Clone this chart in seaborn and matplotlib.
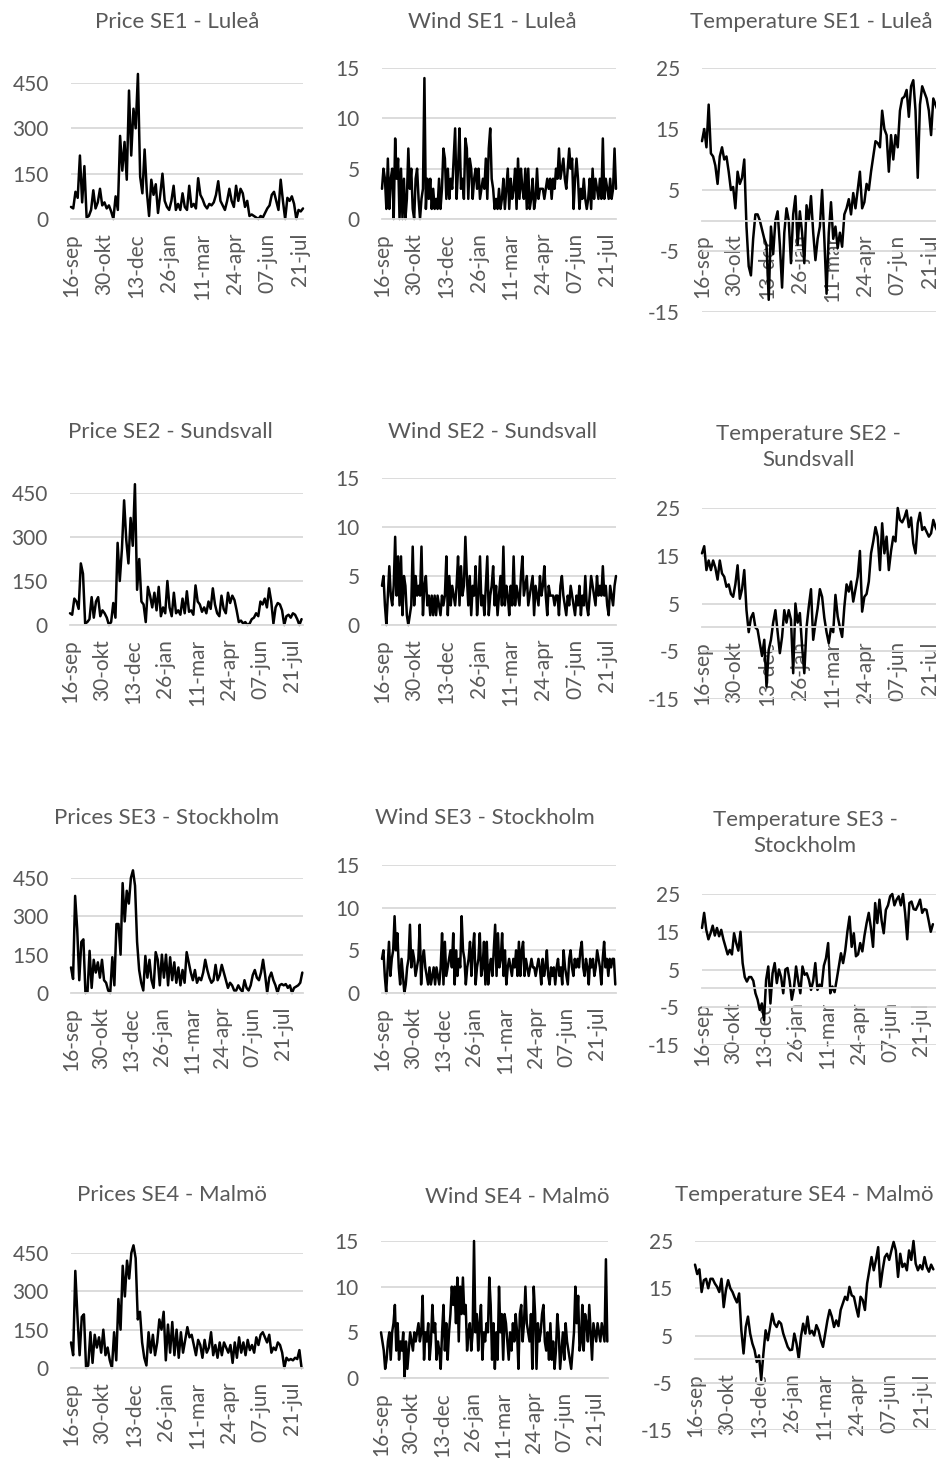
import numpy as np
import seaborn as sns
import matplotlib.pyplot as plt

sns.set_theme(style="white")
plt.rcParams['font.family'] = ['Lato', 'DejaVu Sans']
plt.rcParams['axes.unicode_minus'] = False

tick_labels = ["16-sep", "30-okt", "13-dec", "26-jan", "11-mar", "24-apr", "07-jun", "21-jul"]

# prices, one value every 3 days from 16-sep
price_se1 = [40, 35, 90, 70, 210, 55, 175, 5, 10, 30,
             95, 35, 55, 100, 45, 55, 35, 45, 25, 0,
             75, 30, 275, 160, 255, 130, 425, 210, 365, 300,
             480, 140, 85, 230, 90, 10, 130, 80, 115, 20,
             80, 150, 60, 40, 30, 60, 110, 30, 50, 30,
             85, 40, 30, 110, 40, 50, 35, 135, 80, 65,
             45, 35, 50, 45, 55, 80, 125, 60, 45, 30,
             60, 100, 60, 40, 110, 60, 100, 85, 40, 60,
             10, 15, 10, 5, 0, 10, 5, 20, 35, 45,
             80, 90, 60, 30, 130, 60, 0, 70, 60, 75,
             50, 0, 30, 25, 35]
price_se2 = [40, 35, 90, 80, 55, 210, 175, 5, 10, 20,
             95, 25, 80, 95, 30, 50, 40, 25, 0, 10,
             75, 25, 280, 150, 260, 425, 290, 210, 365, 270,
             480, 120, 225, 80, 70, 10, 130, 100, 60, 110,
             50, 130, 30, 60, 40, 150, 60, 30, 110, 40,
             50, 35, 90, 40, 115, 45, 50, 35, 135, 80,
             70, 45, 60, 40, 80, 55, 125, 70, 40, 30,
             100, 55, 40, 110, 75, 100, 85, 50, 10, 15,
             5, 10, 0, 5, 20, 25, 40, 30, 80, 70,
             90, 60, 125, 80, 5, 60, 75, 70, 50, 0,
             30, 35, 25, 40, 35, 20, 0, 20]
price_se3 = [100, 55, 380, 250, 50, 200, 210, 0, 5, 165,
             20, 130, 80, 120, 60, 130, 50, 40, 10, 0,
             140, 30, 270, 270, 150, 430, 280, 400, 350, 450,
             480, 420, 200, 90, 40, 10, 145, 60, 130, 50,
             20, 160, 130, 30, 150, 60, 150, 30, 140, 50,
             120, 40, 100, 30, 90, 40, 160, 120, 80, 50,
             90, 40, 60, 50, 80, 130, 90, 60, 40, 50,
             110, 50, 70, 110, 80, 50, 20, 40, 30, 10,
             10, 30, 15, 5, 50, 20, 10, 30, 70, 90,
             60, 50, 80, 130, 70, 0, 60, 80, 50, 30,
             0, 30, 35, 30, 35, 20, 30, 0, 20, 25,
             30, 40, 80]
price_se4 = [100, 50, 380, 200, 50, 200, 210, 0, 10, 140,
             20, 130, 80, 120, 60, 150, 50, 80, 30, 0,
             140, 30, 270, 150, 400, 280, 420, 350, 450, 480,
             430, 190, 220, 100, 40, 10, 140, 60, 130, 50,
             100, 190, 150, 220, 30, 170, 60, 180, 50, 150,
             40, 140, 60, 110, 160, 120, 130, 90, 50, 110,
             90, 40, 110, 60, 80, 140, 50, 90, 40, 100,
             50, 100, 80, 60, 90, 20, 100, 40, 120, 60,
             100, 50, 110, 70, 90, 60, 120, 90, 130, 140,
             120, 100, 130, 60, 80, 70, 100, 90, 60, 0,
             40, 30, 35, 30, 40, 35, 70, 0]

# wind, one value every 2 days
wind_se1 = [3, 5, 4, 1, 6, 1, 4, 5, 0, 8,
            4, 6, 0, 5, 0, 4, 0, 2, 7, 3,
            5, 1, 0, 4, 5, 2, 0, 2, 3, 14,
            1, 4, 2, 4, 1, 3, 1, 2, 1, 4,
            1, 3, 7, 6, 2, 5, 2, 4, 3, 6,
            9, 2, 5, 9, 3, 4, 2, 8, 7, 2,
            6, 5, 2, 4, 5, 3, 5, 2, 3, 4,
            3, 6, 2, 7, 9, 4, 3, 1, 2, 1,
            3, 1, 2, 4, 1, 3, 5, 1, 4, 2,
            3, 5, 1, 6, 2, 5, 3, 2, 5, 1,
            5, 1, 2, 4, 1, 2, 5, 2, 3, 3,
            3, 2, 3, 4, 3, 4, 2, 4, 3, 5,
            4, 7, 4, 5, 6, 4, 3, 5, 7, 5,
            6, 1, 4, 6, 4, 1, 3, 2, 4, 2,
            1, 2, 4, 1, 5, 2, 4, 3, 2, 4,
            2, 8, 2, 4, 3, 2, 4, 2, 3, 7,
            3]
wind_se2 = [4, 5, 2, 0, 3, 6, 3, 2, 4, 9,
            3, 7, 2, 7, 1, 5, 4, 1, 0, 1,
            2, 8, 2, 5, 3, 4, 3, 8, 1, 4,
            5, 2, 3, 1, 3, 1, 3, 1, 3, 2,
            1, 3, 2, 3, 7, 1, 5, 2, 4, 3,
            2, 4, 7, 2, 6, 3, 4, 9, 5, 2,
            5, 1, 4, 3, 6, 1, 3, 7, 2, 3,
            1, 4, 7, 1, 3, 4, 6, 2, 4, 1,
            3, 5, 2, 8, 2, 4, 3, 1, 4, 2,
            7, 2, 4, 3, 2, 5, 7, 3, 4, 5,
            2, 3, 4, 5, 1, 4, 3, 2, 5, 3,
            4, 6, 3, 1, 4, 3, 3, 3, 2, 3,
            3, 1, 4, 5, 3, 2, 1, 3, 2, 4,
            3, 2, 1, 3, 2, 4, 1, 3, 2, 5,
            2, 1, 3, 5, 4, 3, 2, 5, 3, 4,
            3, 6, 3, 4, 2, 1, 4, 3, 2, 4,
            5]
wind_se3 = [4, 5, 2, 0, 3, 6, 2, 4, 5, 9,
            5, 7, 3, 1, 4, 2, 0, 1, 3, 4,
            8, 3, 5, 4, 2, 3, 4, 8, 1, 4,
            5, 3, 2, 1, 3, 1, 2, 3, 1, 3,
            2, 1, 3, 7, 1, 6, 2, 3, 4, 5,
            3, 7, 1, 5, 2, 4, 3, 9, 5, 4,
            1, 3, 4, 6, 2, 5, 7, 1, 3, 4,
            7, 2, 3, 6, 1, 6, 1, 3, 4, 2,
            5, 8, 2, 7, 3, 4, 7, 2, 5, 1,
            3, 4, 3, 2, 4, 3, 5, 2, 6, 2,
            5, 6, 2, 4, 3, 2, 3, 4, 3, 3,
            2, 3, 4, 3, 1, 4, 2, 3, 5, 2,
            1, 3, 2, 3, 1, 3, 4, 2, 3, 1,
            5, 3, 2, 1, 4, 5, 3, 2, 4, 3,
            4, 3, 5, 6, 3, 2, 4, 3, 1, 4,
            3, 4, 2, 3, 5, 4, 3, 1, 4, 6,
            3, 4, 2, 4, 3, 4, 4, 1]
wind_se4 = [5, 4, 3, 1, 2, 4, 5, 2, 5, 6,
            8, 3, 6, 2, 4, 3, 5, 0, 4, 1,
            3, 5, 4, 3, 5, 4, 5, 6, 4, 5,
            9, 2, 5, 4, 6, 2, 4, 8, 5, 6,
            2, 4, 3, 1, 5, 8, 3, 6, 2, 5,
            7, 10, 8, 10, 6, 11, 4, 10, 7, 11,
            7, 8, 3, 5, 6, 3, 5, 15, 5, 7,
            3, 6, 8, 2, 5, 4, 6, 5, 11, 8,
            2, 6, 1, 5, 2, 10, 5, 7, 2, 7,
            6, 4, 2, 5, 3, 6, 4, 7, 5, 1,
            7, 8, 4, 6, 10, 6, 5, 4, 7, 1,
            10, 7, 1, 6, 4, 5, 7, 8, 4, 3,
            5, 2, 6, 2, 4, 1, 3, 7, 5, 1,
            3, 5, 2, 6, 4, 3, 2, 1, 3, 5,
            10, 6, 9, 3, 4, 8, 3, 7, 6, 4,
            8, 5, 2, 6, 5, 4, 6, 5, 4, 6,
            5, 4, 13, 4]

# temperature, one value every 3 days
temp_se1 = [13, 15, 12, 19, 11, 10.5, 9, 6, 10.5, 12,
            10, 10.5, 8, 5, 5.5, 2, 8, 6, 7, 10,
            -1, -7.5, -9, -3, 1, 1, 0, -1.5, -3, -4,
            -13, -1, -5.5, 0, 1.5, -4, -11, -2, 2, 0,
            -7, 1, 4, -4, 1.5, -2, -7, 2.5, 0, 4,
            -2, -6.5, -3, -1, 5, -3, -12, -2, 3, -3,
            -1, -4.5, -2, -4.3, 1, 2, 3.5, 1, 4.5, 2,
            5, 8, 2, 3, 6, 5, 8, 10.5, 13, 12.7,
            12, 18, 15, 14, 8, 14, 10, 14, 12, 18,
            20, 20.3, 21.4, 17, 22, 23, 18, 7, 19, 22,
            21, 20, 18, 14, 20, 19, 18]
temp_se2 = [15.5, 17, 12, 14, 12, 14, 12.5, 10, 14, 11.3,
            10.6, 8.5, 9, 7, 6.4, 9, 13, 6, 8, 12,
            3.6, -1, 2, 3, 0, -0.5, -3.3, -6, -2.6, -12.4,
            -4.7, -2.6, 1, 3.6, -1, -5.4, -2, 3.6, 1, 3.6,
            1.6, -9.6, 5, 1, 3, -4, -9.6, 0, 4.3, 8,
            -2.6, 1, 4, 8, 6.4, 2, -1, -3.3, 0, -1,
            6.8, 2.3, 0, -2, 4.3, 9, 7.5, 9.6, 5.4, 8,
            10.6, 16, 3.3, 6.4, 7, 9.6, 15.5, 18, 21, 19,
            12, 21.8, 15.5, 19, 12, 16, 19, 18, 25, 22.5,
            22, 23, 24.5, 21, 23, 17.6, 15.5, 21.8, 24, 20.4,
            21, 20, 19, 19.7, 22.5, 21, 20]
temp_se3 = [16, 20, 15.5, 13, 14.6, 16.6, 14, 16, 13.8, 15.5,
            13, 11, 9, 10.2, 9, 14.6, 12, 10, 15, 6.7,
            3, 1.8, 3, 3, 2, -1.3, -3, -5.7, -4, -8.4,
            2.3, 5.8, -4, 4, 6.7, 1.4, 5, 3, -1.3, 5,
            5.4, 2, -3, 0, 5.8, 2, -1.3, 5.8, 3.6, 4,
            2.3, -0.4, 2, 6.7, -0.4, 1, 0.5, 6, 8, 12,
            -1.3, 0.5, -1, 2.3, 5.8, 9.3, 6.7, 10, 15, 19,
            11, 14.6, 8.5, 9, 12, 9.8, 14, 17.3, 20, 16,
            11, 22.6, 17.3, 23.5, 18, 14.6, 20.8, 22, 24.4, 25,
            22, 23.5, 24.4, 22, 25, 20, 13, 22.6, 23, 21,
            20.8, 22, 23.5, 20, 21, 20.8, 18, 15, 17]
temp_se4 = [20, 18, 19, 14.2, 16.7, 17, 15, 17, 17, 16,
            15.3, 14.2, 17, 11, 14.6, 16.7, 15, 14.2, 13, 12,
            13.9, 6.1, 1.2, 6.8, 9, 5.4, 3.3, 1.9, -0.6, 0.8,
            -4.4, 1.2, 6.1, 4, 6.8, 9.6, 7.5, 6.8, 8, 7.5,
            5.4, 4, 2.6, 1.9, 2, 5.4, 3.3, 0.1, 4.7, 7.5,
            5.4, 9, 5.4, 6, 5, 7.2, 6.1, 4, 2.6, 5.4,
            8.2, 10.4, 9, 6.8, 8.2, 7, 10.4, 11.8, 13.2, 12.5,
            15.3, 13.5, 13.2, 11, 9, 13.2, 12.5, 10.4, 16, 18.8,
            21.6, 18.8, 21, 23.7, 15.3, 18.8, 21.6, 22.3, 21, 23,
            24.8, 23, 17.4, 22.3, 19.5, 20.2, 18.8, 23, 21, 25,
            20.2, 18.8, 19.9, 19, 21.6, 19.5, 18.5, 20, 19]

W, H = 936, 1458
fig = plt.figure(figsize=(W / 100, H / 100), dpi=100)
grey = "#595959"
light = "#d9d9d9"

price_ticks = [0, 150, 300, 450]
wind_ticks = [0, 5, 10, 15]
temp_ticks = [-15, -5, 5, 15, 25]

# (title, title centre, values, day step, x-span in days, left, right, top, bottom, y ticks)
panels = [
    ("Price SE1 - Luleå", (177, 22), price_se1, 3, 312, 71, 303, 83, 219, price_ticks),
    ("Wind SE1 - Luleå", (492, 22), wind_se1, 2, 320, 382, 616, 68, 219, wind_ticks),
    ("Temperature SE1 - Luleå", (811, 22), temp_se1, 3, 348, 702, 960, 68, 312, temp_ticks),
    ("Price SE2 - Sundsvall", (170, 432), price_se2, 3, 323, 70, 303, 493, 625, price_ticks),
    ("Wind SE2 - Sundsvall", (493, 432), wind_se2, 2, 320, 382, 616, 478, 625, wind_ticks),
    ("Temperature SE2 -\nSundsvall", (808, 447), temp_se2, 3, 348, 702, 960, 508, 699, temp_ticks),
    ("Prices SE3 - Stockholm", (167, 818), price_se3, 3, 337, 71, 303, 878, 993, price_ticks),
    ("Wind SE3 - Stockholm", (485, 818), wind_se3, 2, 335, 382, 616, 865, 993, wind_ticks),
    ("Temperature SE3 -\nStockholm", (805, 833), temp_se3, 3, 348, 702, 950, 894, 1045, temp_ticks),
    ("Prices SE4 - Malmö", (172, 1195), price_se4, 3, 323, 71, 303, 1253, 1368, price_ticks),
    ("Wind SE4 - Malmö", (517, 1197), wind_se4, 2, 327, 381, 608, 1241, 1378, wind_ticks),
    ("Temperature SE4 - Malmö", (804, 1195), temp_se4, 3, 348, 695, 951, 1241, 1430, temp_ticks),
]

for title, (cx, cy), vals, step, span, l, r, t, b, yt in panels:
    ax = fig.add_axes([l / W, 1 - b / H, (r - l) / W, (b - t) / H])
    days = np.arange(len(vals)) * step
    sns.lineplot(x=days, y=vals, ax=ax, color="black", linewidth=1.8, clip_on=False)
    # move the x axis to zero first: this resets the ticks
    for s in ["top", "right", "left"]:
        ax.spines[s].set_visible(False)
    ax.spines["bottom"].set_position(("data", 0))
    ax.spines["bottom"].set_color(light)
    ax.spines["bottom"].set_linewidth(1.3)
    ax.set_xlim(0, span)
    ax.set_ylim(yt[0], yt[-1])
    ax.set_yticks(yt)
    ax.set_xticks(np.arange(len(tick_labels)) * 44)
    ax.set_xticklabels(tick_labels, rotation=90)
    ax.grid(axis="y", color=light, linewidth=1.3)
    ax.grid(axis="x", visible=False)
    ax.tick_params(axis="both", length=0, labelsize=15, colors=grey)
    ax.tick_params(axis="x", pad=10)
    ax.tick_params(axis="y", pad=16)
    ax.set_xlabel("")
    ax.set_ylabel("")
    ax.patch.set_alpha(0)
    fig.text(cx / W, 1 - cy / H, title, ha="center", va="center",
             fontsize=16, color=grey, linespacing=1.35)

fig.savefig("out.png", dpi=100)
